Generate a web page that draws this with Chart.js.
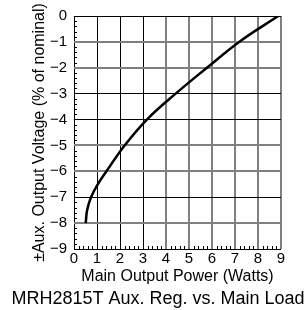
<!DOCTYPE html>
<html>
<head>
<meta charset="utf-8">
<script src="https://cdn.jsdelivr.net/npm/chart.js@4"></script>
<style>
  body { margin: 0; background: #fff; }
  #chart { display: block; }
</style>
</head>
<body>
<canvas id="chart" width="307" height="310"></canvas>
<script>
// Curve
const powerW = [0.51, 0.57, 0.74, 1, 1.41, 2.2, 3.17, 4.42, 5.78, 7.18, 8.88];
const auxDevPct = [-8, -7.5, -7, -6.55, -6, -5, -4, -3, -2, -1, 0];

const xTicks = [0, 1, 2, 3, 4, 5, 6, 7, 8, 9];
const yTicks = [0, -1, -2, -3, -4, -5, -6, -7, -8, -9];

// which grid lines print dark in the original
const xDarkLines = [0, 1, 2, 3];
const yDarkLines = [0, -3, -4, -7, -9];

const FONT = "'Liberation Sans', Arial, sans-serif";

function gridColor(darkList) {
    return ctx => darkList.includes(ctx.tick.value) ? '#000' : '#808080';
}
function gridWidth(darkList) {
    return ctx => darkList.includes(ctx.tick.value) ? 1 : 2;
}

// small inward ticks every 0.2 along left and bottom axes
const minorTicks = {
    id: 'minorTicks',
    afterDatasetsDraw(chart) {
        const { ctx, scales: { x, y }, chartArea } = chart;
        ctx.save();
        ctx.strokeStyle = '#000';
        ctx.lineWidth = 1;
        ctx.beginPath();
        for (let i = 0; i <= 45; i++) {
            if (i % 5 === 0) continue;
            const v = i / 5;
            const px = Math.round(x.getPixelForValue(v)) + 0.5;
            ctx.moveTo(px, chartArea.bottom);
            ctx.lineTo(px, chartArea.bottom - 3);
            const py = Math.round(y.getPixelForValue(-v)) + 0.5;
            ctx.moveTo(chartArea.left, py);
            ctx.lineTo(chartArea.left + 3, py);
        }
        ctx.stroke();
        ctx.restore();
    }
};

new Chart(document.getElementById('chart'), {
    type: 'line',
    data: {
        datasets: [{
            data: powerW.map((p, i) => ({ x: p, y: auxDevPct[i] })),
            borderColor: '#000',
            borderWidth: 2.5,
            pointRadius: 0,
            tension: 0.4,
            fill: false
        }]
    },
    options: {
        responsive: false,
        animation: false,
        layout: { padding: { top: 14, right: 0, left: 9, bottom: 0 } },
        plugins: {
            legend: { display: false },
            tooltip: { enabled: false },
            title: {
                display: true,
                position: 'bottom',
                text: 'MRH2815T Aux. Reg. vs. Main Load',
                color: '#000',
                font: { family: FONT, size: 18, weight: 'normal' },
                padding: { top: 2, bottom: 0 }
            }
        },
        scales: {
            x: {
                type: 'linear',
                min: 0,
                max: 9,
                afterBuildTicks: s => { s.ticks = xTicks.map(v => ({ value: v })); },
                afterFit: s => { s.height = 37.4; },
                border: { display: false },
                grid: {
                    color: gridColor(xDarkLines),
                    lineWidth: gridWidth(xDarkLines),
                    drawTicks: false
                },
                ticks: {
                    color: '#000',
                    padding: 1,
                    maxRotation: 0,
                    font: { family: FONT, size: 15 }
                },
                title: {
                    display: true,
                    text: 'Main Output Power (Watts)',
                    color: '#000',
                    font: { family: FONT, size: 16 },
                    padding: { top: 0, bottom: 0 }
                }
            },
            y: {
                type: 'linear',
                min: -9,
                max: 0,
                afterBuildTicks: s => { s.ticks = yTicks.map(v => ({ value: v })); },
                afterFit: s => { s.width = 65; },
                border: { display: false },
                grid: {
                    color: gridColor(yDarkLines),
                    lineWidth: gridWidth(yDarkLines),
                    drawTicks: false
                },
                ticks: {
                    color: '#000',
                    padding: 7,
                    font: { family: FONT, size: 15 },
                    callback: v => (v < 0 ? '\u2212' + Math.abs(v) : String(v))
                },
                title: {
                    display: true,
                    text: '\u00B1Aux. Output Voltage (% of nominal)',
                    color: '#000',
                    font: { family: FONT, size: 16 },
                    padding: { top: 21, bottom: 0 }
                }
            },
            // empty strip on the right so the plot ends where the original does
            pad: {
                type: 'linear',
                position: 'right',
                display: true,
                grid: { display: false },
                border: { display: false },
                ticks: { display: false },
                afterFit: s => { s.width = 26; }
            }
        }
    },
    plugins: [minorTicks]
});
</script>
</body>
</html>
